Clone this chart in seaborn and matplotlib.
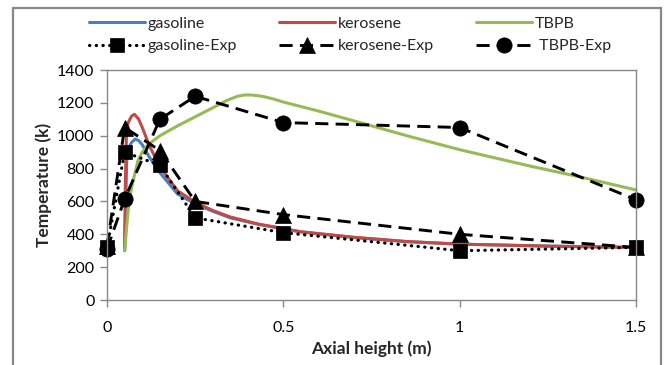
import matplotlib
matplotlib.use("Agg")
import matplotlib.pyplot as plt
from matplotlib.patches import Rectangle
import seaborn as sns

# Simulated axial temperature profiles
gasoline_x = [0.05, 0.053, 0.056, 0.062, 0.07, 0.08, 0.09, 0.1, 0.12, 0.15, 0.2, 0.25,
              0.3, 0.35, 0.43, 0.55, 0.7, 0.85, 1.0, 1.25, 1.5]
gasoline_y = [300, 600, 850, 930, 960, 980, 970, 945, 870, 775, 645, 585,
              540, 500, 460, 415, 380, 355, 340, 328, 320]

kerosene_x = [0.05, 0.052, 0.055, 0.06, 0.07, 0.078, 0.09, 0.1, 0.12, 0.15, 0.2, 0.25,
              0.3, 0.35, 0.43, 0.55, 0.7, 0.85, 1.0, 1.25, 1.5]
kerosene_y = [300, 700, 1000, 1080, 1120, 1130, 1100, 1050, 940, 810, 665, 595,
              545, 505, 462, 415, 382, 356, 340, 328, 320]

tbpb_x = [0.05, 0.06, 0.07, 0.088, 0.1, 0.116, 0.15, 0.2, 0.25, 0.3, 0.34, 0.37, 0.39,
          0.41, 0.44, 0.47, 0.5, 0.6, 0.716, 0.85, 1.0, 1.2, 1.35, 1.5]
tbpb_y = [300, 550, 690, 850, 900, 945, 1000, 1060, 1115, 1170, 1215, 1240, 1248,
          1248, 1240, 1225, 1205, 1150, 1081, 1000, 915, 815, 745, 670]

# Measured temperatures
exp_x = [0, 0.05, 0.15, 0.25, 0.5, 1.0, 1.5]
gasoline_exp = [320, 900, 820, 500, 410, 300, 320]
kerosene_exp = [330, 1050, 910, 600, 520, 400, 320]
tbpb_exp = [310, 615, 1100, 1240, 1080, 1050, 610]

x_ticks = [0, 0.5, 1, 1.5]
x_tick_labels = ["0", "0.5", "1", "1.5"]
y_ticks = [0, 200, 400, 600, 800, 1000, 1200, 1400]

sns.set_theme(style="white")
plt.rcParams["font.family"] = ["Lato", "DejaVu Sans"]

fig = plt.figure(figsize=(6.67, 3.65), dpi=100)
ax = fig.add_axes([107 / 667, 1 - 300 / 365, (636 - 107) / 667, (300 - 70) / 365])

blue, red, green = "#4A7EBB", "#BE4B48", "#98B954"
gray = "#888888"

sim_kw = dict(linewidth=2.2, clip_on=False)
sns.lineplot(x=gasoline_x, y=gasoline_y, color=blue, label="gasoline", ax=ax, **sim_kw)
sns.lineplot(x=kerosene_x, y=kerosene_y, color=red, label="kerosene", ax=ax, **sim_kw)
sns.lineplot(x=tbpb_x, y=tbpb_y, color=green, label="TBPB", ax=ax, **sim_kw)

exp_kw = dict(color="black", markeredgecolor="black", markeredgewidth=0.5,
              clip_on=False, ax=ax)
sns.lineplot(x=exp_x, y=gasoline_exp, marker="s", markersize=10, linewidth=2.3,
             linestyle=(0, (0.1, 2.0)), dash_capstyle="round",
             label="gasoline-Exp", **exp_kw)
sns.lineplot(x=exp_x, y=kerosene_exp, marker="^", markersize=11, linewidth=2.1,
             linestyle=(0, (4.5, 2.5)), label="kerosene-Exp", **exp_kw)
sns.lineplot(x=exp_x, y=tbpb_exp, marker="o", markersize=11, linewidth=2.1,
             linestyle=(0, (4.5, 2.5)), label=" TBPB-Exp", **exp_kw)

if ax.get_legend() is not None:
    ax.get_legend().remove()

ax.set_xlim(0, 1.5)
ax.set_ylim(0, 1400)
ax.set_xticks(x_ticks)
ax.set_xticklabels(x_tick_labels)
ax.set_yticks(y_ticks)
ax.tick_params(axis="both", which="both", direction="out", length=5, width=1,
               color=gray, labelsize=11.5, labelcolor="black", pad=4,
               bottom=True, left=True)
ax.tick_params(axis="x", pad=10)
for side in ["left", "right", "top", "bottom"]:
    ax.spines[side].set_visible(True)
    ax.spines[side].set_color(gray)
    ax.spines[side].set_linewidth(1.0)

ax.set_xlabel("Axial height (m)", fontsize=12.5, fontweight="bold", labelpad=4)
ax.set_ylabel("Temperature (k)", fontsize=12.5, fontweight="bold", labelpad=4)

handles, labels = ax.get_legend_handles_labels()
order = ["gasoline", "gasoline-Exp", "kerosene", "kerosene-Exp", "TBPB", " TBPB-Exp"]
lookup = dict(zip(labels, handles))
fig.legend([lookup[k] for k in order], order, ncol=3, loc="center",
           bbox_to_anchor=(350 / 667, 1 - 35 / 365), frameon=False,
           fontsize=11.5, handlelength=3.5, handletextpad=0.2,
           columnspacing=2.6, labelspacing=0.5, borderpad=0)

# outer chart frame
fig.patches.append(Rectangle((12.5 / 667, -0.05), (660.5 - 12.5) / 667, 1.05 - 8 / 365,
                             transform=fig.transFigure, fill=False,
                             edgecolor=gray, linewidth=1.6))

fig.savefig("out.png", dpi=100)
